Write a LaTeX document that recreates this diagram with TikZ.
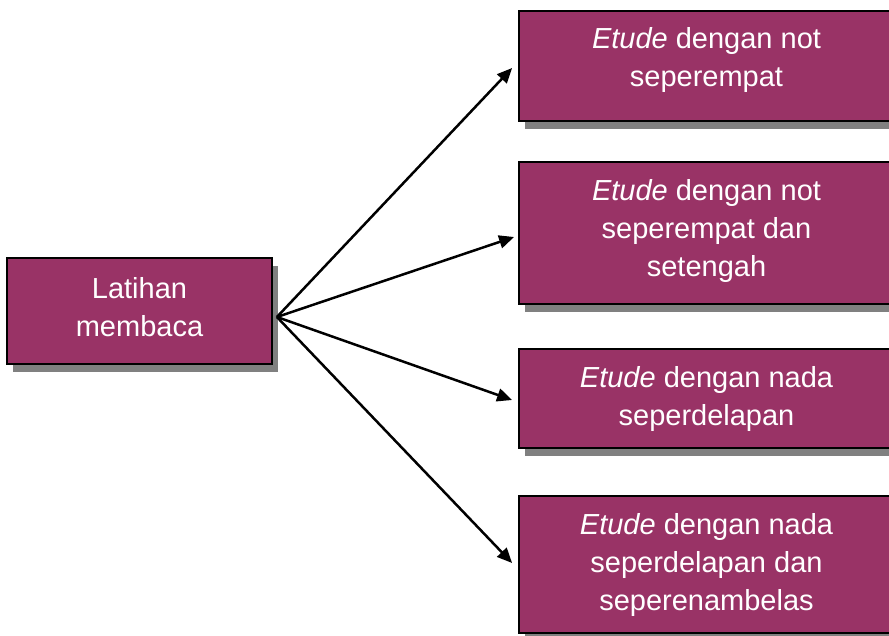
\documentclass[tikz,border=0pt]{standalone}
\usepackage{fontspec}
\setmainfont{Liberation Sans}
\usetikzlibrary{arrows.meta,shadows,calc}
\definecolor{boxfill}{HTML}{993366}
\definecolor{shadowgray}{HTML}{808080}
\begin{document}
\begin{tikzpicture}[x=1pt,y=-1pt,
  box/.style={draw=black, line width=1.8pt, fill=boxfill, rectangle, inner sep=0pt,
    drop shadow={shadow xshift=5.5pt, shadow yshift=-8pt, fill=shadowgray, opacity=1}},
  lbl/.style={text=white, font=\fontsize{29}{38}\selectfont, align=center, inner sep=0pt},
  arr/.style={line width=2.5pt, -{Triangle[length=15pt,width=13pt]}}]
\useasboundingbox (0,0) rectangle (889,635);
\clip (0,0) rectangle (889,635);
\node[box, minimum width=265pt, minimum height=106pt] (L) at (139.5,311) {};
\node[box, minimum width=375pt, minimum height=110pt] (b1) at (706.5,66) {};
\node[box, minimum width=375pt, minimum height=142pt] (b2) at (706.5,233) {};
\node[box, minimum width=375pt, minimum height=99pt] (b3) at (706.5,398.5) {};
\node[box, minimum width=375pt, minimum height=137pt] (b4) at (706.5,564.5) {};
\node[lbl] (tL) at ($(L.center)+(0,-3.5)$) {Latihan\\membaca};
\node[lbl] (t1) at ($(b1.center)+(0,-6)$) {\textit{Etude} dengan not\\seperempat};
\node[lbl] (t2) at ($(b2.center)+(0,-2)$) {\textit{Etude} dengan not\\seperempat dan\\setengah};
\node[lbl] (t3) at (b3.center) {\textit{Etude} dengan nada\\seperdelapan};
\node[lbl] (t4) at (b4.center) {\textit{Etude} dengan nada\\seperdelapan dan\\seperenambelas};
\coordinate (src) at ($(L.east)+(4,6)$);
\coordinate (e1) at ($(b1.west)+(-6,2)$);
\coordinate (e2) at ($(b2.west)+(-4,4)$);
\coordinate (e3) at ($(b3.west)+(-6,1.5)$);
\coordinate (e4) at ($(b4.west)+(-6,-1.5)$);
\draw[arr] (src) -- (e1);
\draw[arr] (src) -- (e2);
\draw[arr] (src) -- (e3);
\draw[arr] (src) -- (e4);
\end{tikzpicture}
\end{document}
